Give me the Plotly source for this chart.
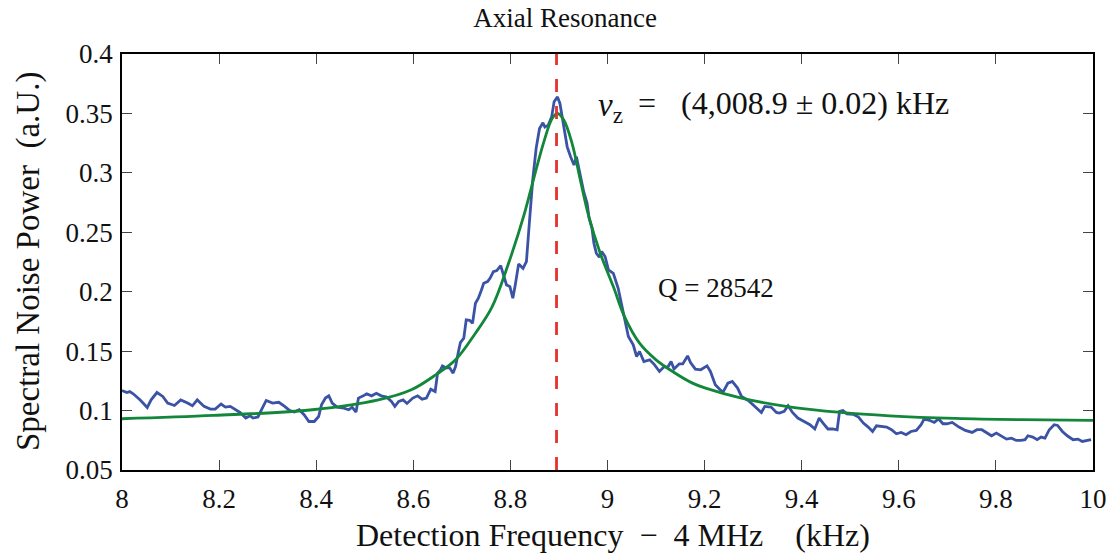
import plotly.graph_objects as go

# ---------------- data ----------------
freq_meas = [8.000, 8.010, 8.016, 8.023, 8.037, 8.052, 8.060, 8.072, 8.084, 8.094,
             8.108, 8.121, 8.135, 8.145, 8.155, 8.169, 8.182, 8.192, 8.204, 8.213,
             8.223, 8.233, 8.243, 8.255, 8.264, 8.270, 8.280, 8.289, 8.297, 8.310,
             8.323, 8.335, 8.345, 8.355, 8.365, 8.375, 8.385, 8.396, 8.405, 8.411,
             8.419, 8.426, 8.433, 8.443, 8.457, 8.467, 8.474, 8.482, 8.487, 8.497,
             8.504, 8.514, 8.524, 8.534, 8.545, 8.555, 8.562, 8.570, 8.579, 8.587,
             8.599, 8.609, 8.618, 8.627, 8.636, 8.645, 8.650, 8.656, 8.660, 8.667,
             8.675, 8.682, 8.687, 8.693, 8.697, 8.704, 8.709, 8.716, 8.722, 8.728,
             8.734, 8.740, 8.745, 8.753, 8.758, 8.765, 8.772, 8.780, 8.785, 8.792,
             8.799, 8.805, 8.810, 8.817, 8.826, 8.833, 8.839, 8.846, 8.853, 8.860,
             8.867, 8.871, 8.878, 8.885, 8.890, 8.897, 8.902, 8.907, 8.912, 8.917,
             8.924, 8.931, 8.936, 8.943, 8.951, 8.958, 8.962, 8.968, 8.972, 8.977,
             8.983, 8.988, 8.995, 9.002, 9.012, 9.022, 9.033, 9.043, 9.053, 9.060,
             9.066, 9.075, 9.087, 9.097, 9.107, 9.117, 9.124, 9.131, 9.137, 9.148,
             9.155, 9.165, 9.171, 9.181, 9.192, 9.205, 9.212, 9.222, 9.232, 9.238,
             9.248, 9.257, 9.268, 9.276, 9.290, 9.303, 9.317, 9.324, 9.337, 9.348,
             9.354, 9.364, 9.372, 9.381, 9.392, 9.405, 9.417, 9.427, 9.436, 9.444,
             9.454, 9.464, 9.473, 9.478, 9.485, 9.493, 9.506, 9.517, 9.527, 9.537,
             9.546, 9.554, 9.564, 9.575, 9.585, 9.595, 9.605, 9.615, 9.625, 9.636,
             9.646, 9.652, 9.663, 9.673, 9.682, 9.691, 9.699, 9.710, 9.724, 9.737,
             9.751, 9.761, 9.771, 9.781, 9.791, 9.801, 9.812, 9.822, 9.832, 9.842,
             9.852, 9.860, 9.866, 9.876, 9.885, 9.893, 9.901, 9.910, 9.920, 9.927,
             9.937, 9.947, 9.959, 9.969, 9.978, 9.988, 9.996]
power_meas = [0.1169, 0.1152, 0.1160, 0.1141, 0.1091, 0.1026, 0.1090, 0.1152, 0.1119, 0.1063,
              0.1043, 0.1090, 0.1063, 0.1040, 0.1090, 0.1035, 0.1013, 0.1013, 0.1055, 0.1029,
              0.1035, 0.1013, 0.0984, 0.0937, 0.0956, 0.0937, 0.0946, 0.1021, 0.1085, 0.1063,
              0.1070, 0.1035, 0.1001, 0.0988, 0.1007, 0.0965, 0.0908, 0.0908, 0.0950, 0.1049,
              0.1105, 0.1124, 0.1063, 0.1029, 0.1021, 0.1007, 0.1029, 0.0987, 0.1105, 0.1124,
              0.1141, 0.1124, 0.1146, 0.1124, 0.1113, 0.1077, 0.1035, 0.1077, 0.1090, 0.1060,
              0.1105, 0.1124, 0.1096, 0.1105, 0.1180, 0.1160, 0.1315, 0.1343, 0.1376, 0.1360,
              0.1360, 0.1315, 0.1370, 0.1497, 0.1572, 0.1609, 0.1763, 0.1760, 0.1735, 0.1903,
              0.1945, 0.2010, 0.2071, 0.2085, 0.2113, 0.2169, 0.2178, 0.2219, 0.2155, 0.2057,
              0.2043, 0.1945, 0.2057, 0.2234, 0.2197, 0.2253, 0.2576, 0.2940, 0.3206, 0.3374,
              0.3421, 0.3385, 0.3402, 0.3471, 0.3598, 0.3639, 0.3584, 0.3458, 0.3318, 0.3219,
              0.3135, 0.3066, 0.3135, 0.3009, 0.2841, 0.2744, 0.2620, 0.2534, 0.2408, 0.2324,
              0.2290, 0.2337, 0.2296, 0.2183, 0.2155, 0.2029, 0.1819, 0.1623, 0.1553, 0.1455,
              0.1497, 0.1413, 0.1427, 0.1385, 0.1329, 0.1370, 0.1364, 0.1413, 0.1349, 0.1393,
              0.1393, 0.1460, 0.1404, 0.1349, 0.1343, 0.1376, 0.1329, 0.1217, 0.1175, 0.1155,
              0.1231, 0.1245, 0.1189, 0.1119, 0.1085, 0.1040, 0.0984, 0.1035, 0.1029, 0.0984,
              0.0979, 0.0993, 0.1040, 0.0984, 0.0937, 0.0908, 0.0881, 0.0845, 0.0937, 0.0895,
              0.0845, 0.0845, 0.0838, 0.0993, 0.1001, 0.0973, 0.0968, 0.0945, 0.0895, 0.0861,
              0.0824, 0.0872, 0.0866, 0.0861, 0.0839, 0.0805, 0.0816, 0.0797, 0.0824, 0.0833,
              0.0881, 0.0929, 0.0918, 0.0900, 0.0929, 0.0889, 0.0889, 0.0900, 0.0861, 0.0833,
              0.0816, 0.0839, 0.0839, 0.0811, 0.0788, 0.0811, 0.0782, 0.0760, 0.0768, 0.0749,
              0.0749, 0.0755, 0.0788, 0.0777, 0.0755, 0.0777, 0.0768, 0.0839, 0.0881, 0.0875,
              0.0824, 0.0788, 0.0755, 0.0760, 0.0740, 0.0749, 0.0755]

freq_fit = [8.000, 8.189, 8.392, 8.528, 8.596, 8.646, 8.687, 8.728, 8.762, 8.795,
            8.829, 8.849, 8.870, 8.886, 8.897, 8.910, 8.927, 8.944, 8.961, 8.985,
            9.012, 9.035, 9.066, 9.100, 9.134, 9.175, 9.202, 9.276, 9.378, 9.480,
            9.581, 9.717, 9.852, 10.000]
power_fit = [0.0931, 0.0959, 0.1007, 0.1090, 0.1175, 0.1300, 0.1427, 0.1651, 0.1870, 0.2225,
             0.2660, 0.2967, 0.3276, 0.3458, 0.3500, 0.3444, 0.3248, 0.2940, 0.2640, 0.2324,
             0.2043, 0.1790, 0.1567, 0.1427, 0.1329, 0.1231, 0.1189, 0.1105, 0.1029, 0.0984,
             0.0956, 0.0934, 0.0923, 0.0917]

resonance_freq = 8.895
x_ticks = [8, 8.2, 8.4, 8.6, 8.8, 9, 9.2, 9.4, 9.6, 9.8, 10]
x_tick_labels = ["8", "8.2", "8.4", "8.6", "8.8", "9", "9.2", "9.4", "9.6", "9.8", "10"]
y_ticks = [0.05, 0.1, 0.15, 0.2, 0.25, 0.3, 0.35, 0.4]
y_tick_labels = ["0.05", "0.1", "0.15", "0.2", "0.25", "0.3", "0.35", "0.4"]

FONT = "Liberation Serif"
TXT = "#111111"

fig = go.Figure()
fig.add_trace(go.Scatter(x=freq_meas, y=power_meas, mode="lines",
                         line=dict(color="#3b53a5", width=2.8), showlegend=False))
fig.add_trace(go.Scatter(x=freq_fit, y=power_fit, mode="lines", line_shape="spline",
                         line=dict(color="#12873a", width=2.8), showlegend=False))
fig.add_trace(go.Scatter(x=[resonance_freq, resonance_freq], y=[0.05, 0.4], mode="lines",
                         line=dict(color="#e5322d", width=2.8, dash="13px,14px"),
                         showlegend=False))

# resonance annotation (three pieces for spacing control)
fig.add_annotation(x=0.488, y=0.872, xref="paper", yref="paper", xanchor="left",
                   yanchor="middle", showarrow=False, text="<i>v</i><sub>z</sub>",
                   font=dict(family=FONT, size=33, color=TXT))
fig.add_annotation(x=0.541, y=0.882, xref="paper", yref="paper", xanchor="center",
                   yanchor="middle", showarrow=False, text="=",
                   font=dict(family=FONT, size=32, color=TXT))
fig.add_annotation(x=0.574, y=0.882, xref="paper", yref="paper", xanchor="left",
                   yanchor="middle", showarrow=False, text="(4,008.9 ± 0.02) kHz",
                   font=dict(family=FONT, size=32, color=TXT))
fig.add_annotation(x=0.550, y=0.438, xref="paper", yref="paper", xanchor="left",
                   yanchor="middle", showarrow=False, text="Q = 28542",
                   font=dict(family=FONT, size=27, color=TXT))

# axis titles
fig.add_annotation(x=0.5, y=0, xref="paper", yref="paper", xanchor="center",
                   yanchor="middle", yshift=-65, xshift=5, showarrow=False,
                   text="Detection Frequency  −  4 MHz    (kHz)",
                   font=dict(family=FONT, size=32, color=TXT))
fig.add_annotation(x=0, y=0.5, xref="paper", yref="paper", xanchor="center",
                   yanchor="middle", xshift=-94, textangle=-90, showarrow=False,
                   text="Spectral Noise Power  (a.U.)",
                   font=dict(family=FONT, size=33, color=TXT))

axis_common = dict(showline=True, linecolor="black", linewidth=1.6, mirror="ticks",
                   ticks="inside", ticklen=10, tickcolor="#444", tickwidth=1,
                   showgrid=False, zeroline=False,
                   tickfont=dict(family=FONT, size=27, color=TXT))

fig.update_layout(
    width=1119, height=557,
    margin=dict(l=122, r=12, t=54, b=87),
    paper_bgcolor="white", plot_bgcolor="white",
    title=dict(text="Axial Resonance", x=0.505, xanchor="center", y=0.968, yanchor="middle",
               font=dict(family=FONT, size=27, color=TXT)),
    xaxis=dict(range=[8, 10], tickvals=x_ticks, ticktext=x_tick_labels,
               ticklabelstandoff=4, **axis_common),
    yaxis=dict(range=[0.05, 0.4], tickvals=y_ticks, ticktext=y_tick_labels,
               ticklabelstandoff=2, **axis_common),
)

fig.write_html("out.html")
